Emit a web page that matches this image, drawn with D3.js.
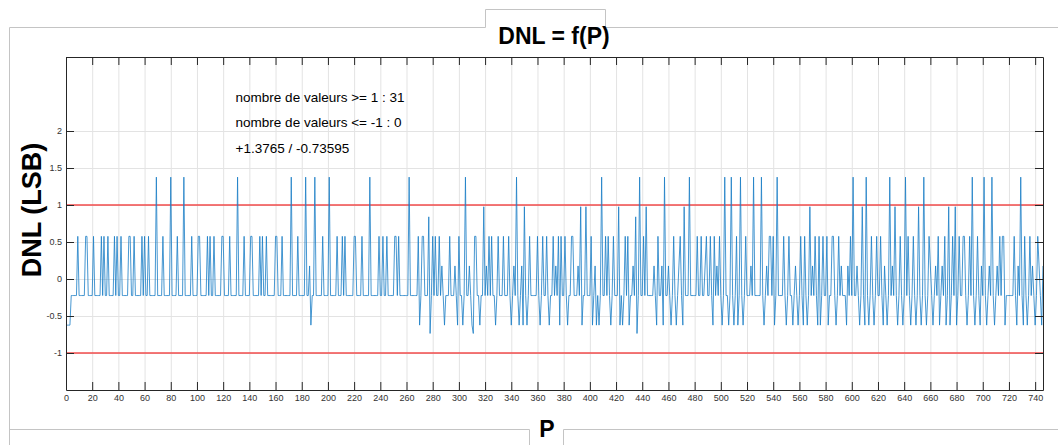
<!DOCTYPE html>
<html>
<head>
<meta charset="utf-8">
<script src="https://cdn.jsdelivr.net/npm/d3@7/dist/d3.min.js"></script>
<style>
  body { margin: 0; background: #fff; }
  text { font-family: "Liberation Sans", Arial, Helvetica, sans-serif; }
</style>
</head>
<body>
<svg width="1058" height="445"></svg>
<script>
// DNL levels (LSB) seen on the plot, one code per level
const levelCodes  = ['0', '1', '2', '3', '4', '5', 'm', 'n'];
const levelValues = [-0.6235, -0.2235, 0.1765, 0.5765, 0.9765, 1.3765, -0.73595, 0.84];

// one code per P, groups of 10 (P 0..746)
const dnlCodes = [
  "0000111113 1111133111 1311111313 1131111313 1131111133 1131111131 3113111115 1111311111 5111131111 5111113111",
  "1331111131 3113111113 3111131111 1511113111 1331111131 3113111111 3311131111 1151111311 1115112011 5111113111",
  "1511111311 1313111111 3311113111 1151111113 1131131111 1331311111 1151111113 0133111nm1 3131131210 1113111210",
  "3110151121 0m33110114 1213131101 3111311131 0121510120 4101311111 3101311310 1131213031 1310113311 1214011411",
  "1301201015 1131310131 1140101313 01121nm151 1314111112 1031120511 2101310123 1041115111 1131131123 1131031213",
  "1015110151 0130151013 1112151111 1510121331 3015111131 0131101210 1310310141 2131030131 1301133101 3121110213",
  "1511210141 0510131013 1131021015 1214101310 1513101310 1410151013 2101213012 1301401314 0131133101 3151013102",
  "1510121510 1213133011 1111310215 1031013121 0132102"
];

const xTicks = [0, 20, 40, 60, 80, 100, 120, 140, 160, 180, 200, 220, 240, 260, 280, 300, 320, 340, 360,
                380, 400, 420, 440, 460, 480, 500, 520, 540, 560, 580, 600, 620, 640, 660, 680, 700, 720, 740];
const yTicks = [-1, -0.5, 0, 0.5, 1, 1.5, 2];
const limits = [1, -1];
const notes = ["nombre de valeurs >= 1 : 31", "nombre de valeurs <= -1 : 0", "+1.3765 / -0.73595"];

const codes = dnlCodes.join('').replace(/ /g, '').split('');
const data = codes.map((c, i) => ({ p: i, v: levelValues[levelCodes.indexOf(c)] }));

var svg = d3.select('svg');
const plotL = 66, plotR = 1043, plotT = 57, plotB = 390;
const plotW = plotR - plotL, plotH = plotB - plotT;

const x = d3.scaleLinear().domain([0, 746]).range([plotL, plotR]);
const y = d3.scaleLinear().domain([-1.5, 3]).range([plotB, plotT]);

// panel outline around the figure (grey tabs for title and x label)
svg.append('path')
  .attr('d', 'M9.5,445 V27.5 H485.5 V9.5 H605.5 V27.5 H1058 M9.5,429.5 H529.5 V445 M563.5,445 V429.5 H1058')
  .attr('fill', 'none').attr('stroke', '#c4c4c4').attr('stroke-width', 1);

// grid
svg.append('g').attr('transform', `translate(0,${plotB})`)
  .call(d3.axisBottom(x).tickValues(xTicks).tickSize(-plotH).tickFormat(''))
  .call(g => g.select('.domain').remove())
  .selectAll('line').attr('stroke', '#e3e3e3');
svg.append('g').attr('transform', `translate(${plotL},0)`)
  .call(d3.axisLeft(y).tickValues(yTicks).tickSize(-plotW).tickFormat(''))
  .call(g => g.select('.domain').remove())
  .selectAll('line').attr('stroke', '#e3e3e3');

// limit lines at +1 / -1
svg.selectAll('.limit').data(limits).enter().append('line')
  .attr('class', 'limit')
  .attr('x1', plotL).attr('x2', plotR)
  .attr('y1', d => y(d)).attr('y2', d => y(d))
  .attr('stroke', '#f24b4b').attr('stroke-width', 1.3);

// DNL curve
svg.append('path').datum(data)
  .attr('fill', 'none')
  .attr('stroke', '#1a7ec6')
  .attr('stroke-opacity', 0.85)
  .attr('stroke-width', 0.95)
  .attr('stroke-linejoin', 'round')
  .attr('d', d3.line().x(d => x(d.p)).y(d => y(d.v)));

// axes, ticks inward, box on
const tickLen = 8;
const styleAxis = g => {
  g.select('.domain').attr('stroke', '#262626');
  g.selectAll('.tick line').attr('stroke', '#262626');
  g.selectAll('.tick text').attr('fill', '#333').attr('font-size', 9);
};
svg.append('g').attr('transform', `translate(0,${plotB})`)
  .call(d3.axisBottom(x).tickValues(xTicks).tickSizeInner(-tickLen).tickSizeOuter(0).tickPadding(5).tickFormat(d => String(d)))
  .call(styleAxis);
svg.append('g').attr('transform', `translate(0,${plotT})`)
  .call(d3.axisTop(x).tickValues(xTicks).tickSizeInner(-tickLen).tickSizeOuter(0).tickFormat(''))
  .call(styleAxis);
svg.append('g').attr('transform', `translate(${plotL},0)`)
  .call(d3.axisLeft(y).tickValues(yTicks).tickSizeInner(-tickLen).tickSizeOuter(0).tickPadding(4).tickFormat(d => String(d)))
  .call(styleAxis);
svg.append('g').attr('transform', `translate(${plotR},0)`)
  .call(d3.axisRight(y).tickValues(yTicks).tickSizeInner(-tickLen).tickSizeOuter(0).tickFormat(''))
  .call(styleAxis);

// annotations
const noteY = [2.45, 2.12, 1.77];
svg.selectAll('.note').data(notes).enter().append('text')
  .attr('class', 'note')
  .attr('x', x(129.5))
  .attr('y', (d, i) => y(noteY[i]))
  .attr('dy', '0.35em')
  .attr('font-size', 13.5)
  .attr('fill', '#000')
  .text(d => d);

// title and labels
svg.append('text').attr('x', 554).attr('y', 44)
  .attr('text-anchor', 'middle').attr('font-size', 23).attr('font-weight', 'bold')
  .text('DNL = f(P)');
svg.append('text').attr('x', 547).attr('y', 437)
  .attr('text-anchor', 'middle').attr('font-size', 23).attr('font-weight', 'bold')
  .text('P');
svg.append('text')
  .attr('transform', 'translate(41,210) rotate(-90)')
  .attr('text-anchor', 'middle').attr('font-size', 27).attr('font-weight', 'bold')
  .text('DNL (LSB)');
</script>
</body>
</html>
